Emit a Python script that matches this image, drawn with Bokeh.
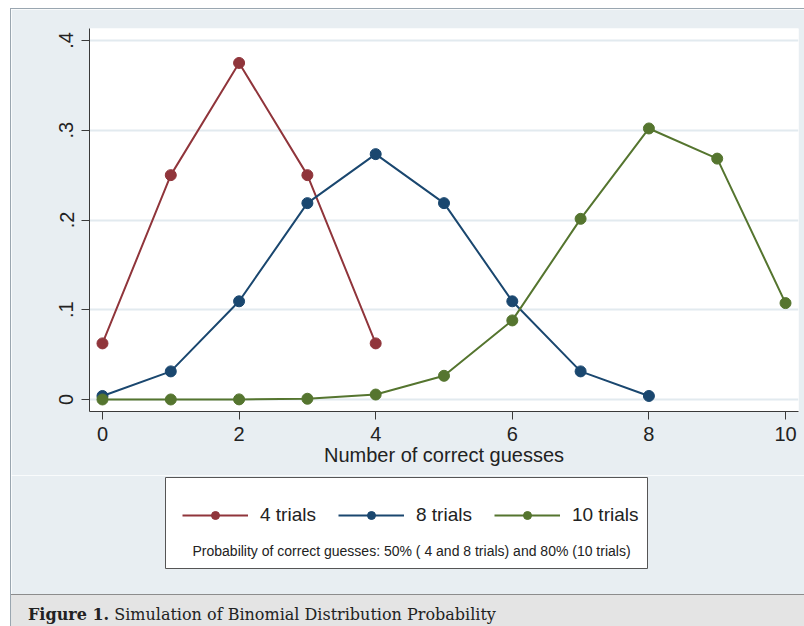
import numpy as np
from bokeh.plotting import figure
from bokeh.models import (Range1d, FixedTicker, Legend, LegendItem, Label, Div)
from bokeh.layouts import column
from bokeh.embed import file_html
from bokeh.resources import INLINE

# ---- data ----
k4 = [0, 1, 2, 3, 4]
p4 = [0.0625, 0.25, 0.375, 0.25, 0.0625]
k8 = [0, 1, 2, 3, 4, 5, 6, 7, 8]
p8 = [0.0039, 0.0313, 0.1094, 0.2188, 0.2734, 0.2188, 0.1094, 0.0313, 0.0039]
k10 = [0, 1, 2, 3, 4, 5, 6, 7, 8, 9, 10]
p10 = [0.0000, 0.0000, 0.0001, 0.0008, 0.0055, 0.0264, 0.0881, 0.2013, 0.3020, 0.2684, 0.1074]
series_names = ["4 trials", "8 trials", "10 trials"]
x_ticks = [0, 2, 4, 6, 8, 10]
y_ticks = [0, 0.1, 0.2, 0.3, 0.4]
y_tick_labels = {0: "0", 0.1: ".1", 0.2: ".2", 0.3: ".3", 0.4: ".4"}
x_label = "Number of correct guesses"
note = "Probability of correct guesses: 50% ( 4 and 8 trials) and 80% (10 trials)"
caption_bold = "Figure 1."
caption_text = "Simulation of Binomial Distribution Probability"

RED = "#90353B"
BLUE = "#1A476F"
GREEN = "#55752F"
BG = "#e8eef2"
FONT = "Liberation Sans"
TXT = "#222222"
EDGE = "#9aa6b0"

# ---- main chart ----
p = figure(width=794, height=466, output_backend="svg", toolbar_location=None,
           x_range=Range1d(-0.19, 10.19), y_range=Range1d(-0.0134, 0.4134),
           min_border_left=78, min_border_top=19, min_border_right=7,
           min_border_bottom=64, frame_align=False)
p.border_fill_color = BG
p.background_fill_color = "white"
p.outline_line_color = None

for ax in (p.xaxis[0], p.yaxis[0]):
    ax.axis_line_color = "#3a3a3a"
    ax.axis_line_width = 1
    ax.major_tick_line_color = "#3a3a3a"
    ax.major_tick_out = 8
    ax.major_tick_in = 0
    ax.minor_tick_line_color = None
    ax.major_label_text_font = FONT
    ax.major_label_text_font_size = "20px"
    ax.major_label_text_color = TXT

p.xaxis.ticker = FixedTicker(ticks=x_ticks)
p.xaxis.major_label_standoff = 7
p.xaxis.axis_label = x_label
p.xaxis.axis_label_text_font = FONT
p.xaxis.axis_label_text_font_size = "20px"
p.xaxis.axis_label_text_font_style = "normal"
p.xaxis.axis_label_text_color = TXT
p.xaxis.axis_label_standoff = 0

p.yaxis.ticker = FixedTicker(ticks=y_ticks)
p.yaxis.major_label_overrides = y_tick_labels
p.yaxis.major_label_orientation = "vertical"
p.yaxis.major_label_standoff = 8

p.xgrid.grid_line_color = None
p.ygrid.ticker = FixedTicker(ticks=y_ticks)
p.ygrid.grid_line_color = "#e2eaef"
p.ygrid.grid_line_width = 2

colors = [RED, BLUE, GREEN]
for xs, ys, col in ((k4, p4, RED), (k8, p8, BLUE), (k10, p10, GREEN)):
    p.line(xs, ys, line_color=col, line_width=2)
    p.scatter(xs, ys, size=11, fill_color=col, line_color=col)

# ---- legend panel (its frame is the legend box) ----
lf = figure(width=794, height=119, output_backend="svg", toolbar_location=None,
            x_range=Range1d(0, 1), y_range=Range1d(0, 1),
            x_axis_location=None, y_axis_location=None,
            min_border_left=154, min_border_right=158,
            min_border_top=2, min_border_bottom=26, frame_align=False)
lf.border_fill_color = BG
lf.background_fill_color = "white"
lf.outline_line_color = "#555555"
lf.outline_line_width = 1
lf.grid.visible = False

nan = np.array([np.nan])
items = []
for name, col in zip(series_names, colors):
    l = lf.line(x=nan, y=nan, line_color=col, line_width=2)
    s = lf.scatter(x=nan, y=nan, size=11, fill_color=col, line_color=col)
    items.append(LegendItem(label=name, renderers=[l, s]))

legend = Legend(items=items, orientation="horizontal", location=(17, 42),
                margin=0, padding=0, spacing=22,
                glyph_width=66, glyph_height=20, label_height=20,
                label_standoff=12,
                label_text_font=FONT, label_text_font_size="19px",
                label_text_color=TXT,
                border_line_color=None, background_fill_alpha=0)
lf.add_layout(legend, "center")

lf.add_layout(Label(x=27, y=18, x_units="screen", y_units="screen",
                    text=note, text_font=FONT, text_font_size="14px",
                    text_baseline="middle", text_color=TXT))

# ---- caption ----
cap = Div(text=f"<b>{caption_bold}</b> {caption_text}", width=794, height=33,
          margin=(0, 0, 0, 0),
          styles={"background-color": "#e4e4e4", "border-top": "1px solid #8c8c8c",
                  "font-family": "DejaVu Serif", "font-size": "16px",
                  "color": TXT, "padding-left": "17px", "padding-top": "9px",
                  "box-sizing": "border-box", "overflow": "hidden"})

layout = column(p, lf, cap, spacing=0, margin=(8, 0, 0, 10),
                styles={"border-left": f"1px solid {EDGE}",
                        "border-top": f"1px solid {EDGE}"})
open("out.html", "w").write(file_html(layout, INLINE))
